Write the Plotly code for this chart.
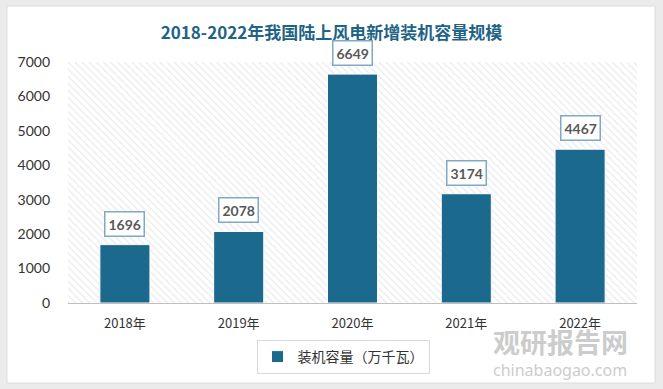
import plotly.graph_objects as go

categories = ["2018年", "2019年", "2020年", "2021年", "2022年"]
values = [1696, 2078, 6649, 3174, 4467]
y_ticks = [0, 1000, 2000, 3000, 4000, 5000, 6000, 7000]
series_name = "装机容量（万千瓦）"
title_text = "2018-2022年我国陆上风电新增装机容量规模"

BAR_COLOR = "#1b6a8d"
L, R, T, B = 68, 26, 62, 86
W, H = 663, 389
pw, ph = W - L - R, H - T - B

def px2x(p):
    return (p - L) / pw

def py2y(p):
    return (H - B - p) / ph

fig = go.Figure()

# hatched plot-area background (base x axis, drawn underneath)
fig.add_trace(go.Bar(
    x=[0.5], y=[max(y_ticks)], width=[1], xaxis="x", yaxis="y",
    marker=dict(color="white", line=dict(width=0),
                pattern=dict(shape="\\", fgcolor="#d6d6d6", bgcolor="white", size=5, solidity=0.25)),
    showlegend=False, hoverinfo="skip"))

fig.add_trace(go.Bar(
    x=categories, y=values, name=series_name, width=0.44, xaxis="x2", yaxis="y",
    marker=dict(color=BAR_COLOR, line=dict(color="white", width=1)),
    showlegend=True))

for c, v in zip(categories, values):
    fig.add_annotation(x=c, y=v, xref="x2", yref="y", text=f"<b>{v}</b>",
                       showarrow=False, yanchor="bottom", yshift=8,
                       font=dict(family="Lato, Open Sans, sans-serif", size=14, color="#595959"),
                       bgcolor="white", bordercolor="#7fa9c6", borderwidth=1.5, borderpad=3)

# watermark
fig.add_annotation(x=px2x(560), y=py2y(341), xref="paper", yref="paper", text="<b>观研报告网</b>",
                   xanchor="center", yanchor="middle",
                   showarrow=False, font=dict(family="Noto Sans CJK SC", size=27, color="#9a9a9a"), opacity=0.5)
fig.add_annotation(x=px2x(560), y=py2y(370), xref="paper", yref="paper", text="chinabaogao.com",
                   xanchor="center", yanchor="middle",
                   showarrow=False, font=dict(family="Noto Sans", size=16, color="#9a9a9a"), opacity=0.5)

# white card
fig.add_shape(type="rect", xref="paper", yref="paper", layer="below",
              x0=px2x(7), x1=px2x(655), y0=py2y(383), y1=py2y(6),
              fillcolor="white", line=dict(color="#dcdcdc", width=1))

fig.update_layout(
    width=W, height=H,
    margin=dict(l=L, r=R, t=T, b=B, autoexpand=False),
    paper_bgcolor="#ebebeb", plot_bgcolor="rgba(0,0,0,0)",
    title=dict(text=f"<b>{title_text}</b>", x=0.5, xanchor="center", y=1 - 33 / H, yanchor="middle",
               font=dict(family="Noto Sans CJK SC", size=17, color="#1f6385")),
    xaxis=dict(range=[0, 1], visible=False),
    xaxis2=dict(overlaying="x", side="bottom", showline=True, linecolor="#bfbfbf", linewidth=1,
                ticks="", showgrid=False, ticklabelstandoff=8,
                tickfont=dict(family="Noto Sans CJK SC", size=13, color="#333333")),
    yaxis=dict(range=[0, 7000], tickvals=y_ticks, showgrid=False, zeroline=False, showline=False,
               ticklabelstandoff=17,
               tickfont=dict(family="Lato, Open Sans, sans-serif", size=14, color="#333333")),
    legend=dict(orientation="h", x=px2x(343), xanchor="center", y=py2y(357), yanchor="middle",
                bordercolor="#d9d9d9", borderwidth=1, bgcolor="white",
                font=dict(family="Noto Sans CJK SC", size=14, color="#333333")),
    showlegend=True,
    barmode="overlay",
)

fig.write_html("out.html", config={"displayModeBar": False},
               post_script="document.body.style.margin='0';")
